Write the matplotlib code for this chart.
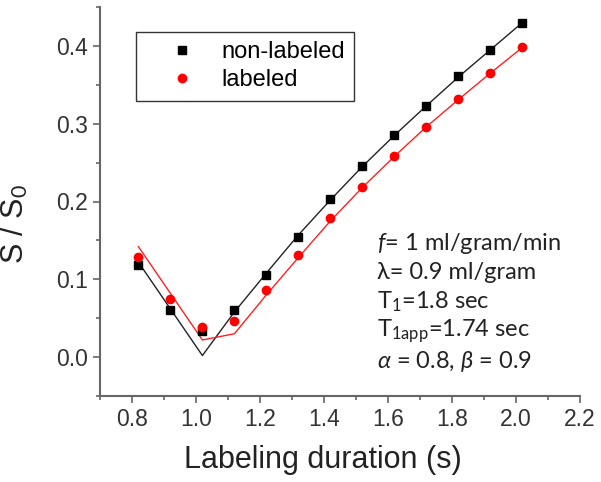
import numpy as np
import matplotlib
matplotlib.use("Agg")
import matplotlib.pyplot as plt
from matplotlib.ticker import MultipleLocator

# measured points
t = [0.82, 0.92, 1.02, 1.12, 1.22, 1.32, 1.42, 1.52, 1.62, 1.72, 1.82, 1.92, 2.02]
nonlab = [0.118, 0.060, 0.034, 0.061, 0.106, 0.154, 0.203, 0.245, 0.285, 0.323, 0.361, 0.395, 0.429]
lab = [0.129, 0.075, 0.039, 0.046, 0.086, 0.131, 0.179, 0.219, 0.259, 0.296, 0.332, 0.365, 0.398]

# model curves
fit_nonlab = [0.122, 0.062, 0.002, 0.058, 0.108, 0.157, 0.202, 0.245, 0.285, 0.323, 0.360, 0.395, 0.430]
fit_lab = [0.142, 0.082, 0.022, 0.030, 0.080, 0.128, 0.175, 0.218, 0.258, 0.296, 0.331, 0.365, 0.398]

params = [r"$f$= 1 ml/gram/min",
          "λ= 0.9 ml/gram",
          r"T$_\mathrm{1}$=1.8 sec",
          r"T$_\mathrm{1app}$=1.74 sec",
          r"$\alpha$ = 0.8, $\beta$ = 0.9"]

plt.rcParams['font.family'] = ['Liberation Sans', 'DejaVu Sans']
plt.rcParams['mathtext.fontset'] = 'custom'
plt.rcParams['mathtext.rm'] = 'Lato'
plt.rcParams['mathtext.it'] = 'Lato:italic'

fig = plt.figure(figsize=(6.01, 4.82), dpi=100)
ax = fig.add_axes([100/601, 86/482, 480/601, 389/482])

ax.plot(t, fit_nonlab, color="#222222", lw=1.0)
ax.plot(t, fit_lab, color="#ff2020", lw=1.0)
ax.plot(t, nonlab, "s", color="black", ms=5.5, label="non-labeled")
ax.plot(t, lab, "o", color="red", ms=6, label="labeled")

ax.set_xlim(0.7, 2.2)
ax.set_ylim(-0.05, 0.45)
ax.xaxis.set_minor_locator(MultipleLocator(0.1))
ax.yaxis.set_minor_locator(MultipleLocator(0.05))
xt = np.arange(0.8, 2.21, 0.2)
ax.set_xticks(xt)
ax.set_xticklabels([f"{v:.1f}" for v in xt])
yt = [0.0, 0.1, 0.2, 0.3, 0.4]
ax.set_yticks(yt)
ax.set_yticklabels([f"{v:.1f}" for v in yt])

for s in ["top", "right"]:
    ax.spines[s].set_visible(False)
for s in ["left", "bottom"]:
    ax.spines[s].set_color("#666666")
    ax.spines[s].set_linewidth(1.5)
ax.tick_params(which="major", direction="out", length=5, width=1.2, color="#666666",
               labelsize=16.5, labelcolor="#333333")
ax.tick_params(which="minor", direction="out", length=3, width=1.2, color="#666666")

ax.set_xlabel("Labeling duration (s)", fontsize=22, color="#222222")
ax.xaxis.set_label_coords(0.465, -0.125)
ax.set_ylabel(r"S / S$_\mathrm{0}$", fontsize=22, color="#222222")
ax.yaxis.set_label_coords(-0.145, 0.442)

leg = ax.legend(loc="upper left", bbox_to_anchor=(0.075, 0.936), borderaxespad=0,
                fontsize=17, frameon=True, fancybox=False, edgecolor="black",
                handletextpad=0.1, borderpad=0.4, labelspacing=0.25, handlelength=3.1)
leg.get_frame().set_linewidth(1.0)

for i, line in enumerate(params):
    ax.text(0.578, 0.393 - i * 0.0758, line, transform=ax.transAxes, fontsize=17,
            family=['Lato', 'DejaVu Sans'], color="#222222", va="center")

fig.savefig("out.png", dpi=100)
